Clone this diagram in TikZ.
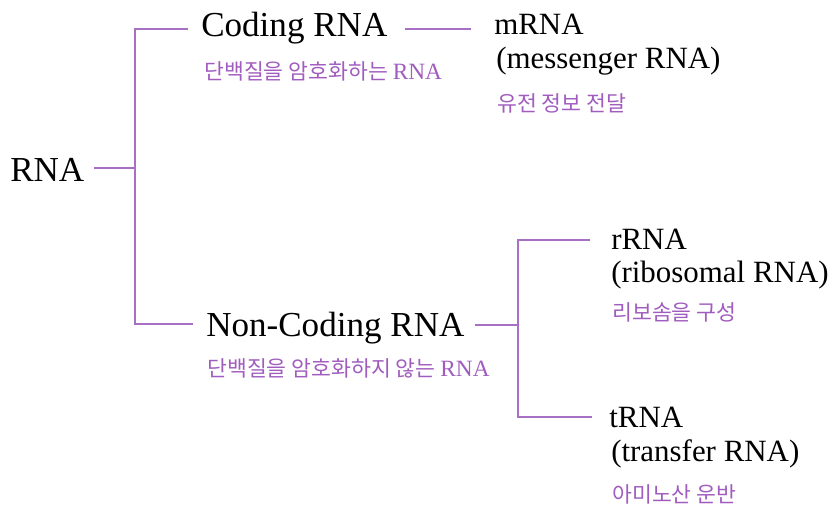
\documentclass[tikz,border=0pt]{standalone}
\usepackage{fontspec}
\setmainfont{Liberation Serif}
\newfontfamily\kr{Noto Sans CJK KR}
\newcommand\rnafnt{\fontsize{17.5}{20}\rmfamily\selectfont}
\definecolor{lnpurple}{RGB}{168,112,196}
\definecolor{txpurple}{RGB}{160,92,190}
\begin{document}
\begin{tikzpicture}[x=0.75pt,y=-0.75pt,
  mainlbl/.style={anchor=base west, inner sep=0pt, font=\fontsize{26.3}{30}\selectfont},
  leaflbl/.style={anchor=base west, inner sep=0pt, font=\fontsize{23.2}{28}\selectfont},
  notelbl/.style={anchor=west, inner sep=0pt, text=txpurple, font=\fontsize{16.2}{19}\kr},
  conn/.style={draw=lnpurple, line width=1.5pt}]
\useasboundingbox (0,0) rectangle (832,509);
% text nodes
\node[mainlbl] (rna) at (10,182) {RNA};
\node[mainlbl] (coding) at (201,37) {Coding RNA};
\node[notelbl] (codingnote) at (204,71) {단백질을 암호화하는 {\rnafnt RNA}};
\node[mainlbl] (noncoding) at (206,337) {Non-Coding RNA};
\node[notelbl] (noncodingnote) at (207,368) {단백질을 암호화하지 않는 {\rnafnt RNA}};
\node[leaflbl] (mrna) at (494,35) {mRNA};
\node[leaflbl] (mrnafull) at (496,69) {(messenger RNA)};
\node[notelbl] (mrnanote) at (497,103) {유전 정보 전달};
\node[leaflbl] (rrna) at (611,250) {rRNA};
\node[leaflbl] (rrnafull) at (611,283) {(ribosomal RNA)};
\node[notelbl] (rrnanote) at (612,312) {리보솜을 구성};
\node[leaflbl] (trna) at (609,428) {tRNA};
\node[leaflbl] (trnafull) at (611,461) {(transfer RNA)};
\node[notelbl] (trnanote) at (612,494) {아미노산 운반};
% junctions
\coordinate (j1) at (135,168);
\coordinate (t1) at (135,29);
\coordinate (b1) at (135,324);
\coordinate (j2) at (518,325);
\coordinate (t2) at (518,240);
\coordinate (b2) at (518,417);
% connectors
\draw[conn] ([xshift=7pt]rna.east |- j1) -- (j1);
\draw[conn] ([xshift=-10pt]coding.west |- t1) -- (t1) -- (b1) -- ([xshift=-10pt]noncoding.west |- b1);
\draw[conn] ([xshift=13pt]coding.east |- t1) -- ([xshift=-17pt]mrna.west |- t1);
\draw[conn] ([xshift=8pt]noncoding.east |- j2) -- (j2);
\draw[conn] ([xshift=-16pt]rrna.west |- t2) -- (t2) -- (b2) -- ([xshift=-13pt]trna.west |- b2);
\end{tikzpicture}
\end{document}
